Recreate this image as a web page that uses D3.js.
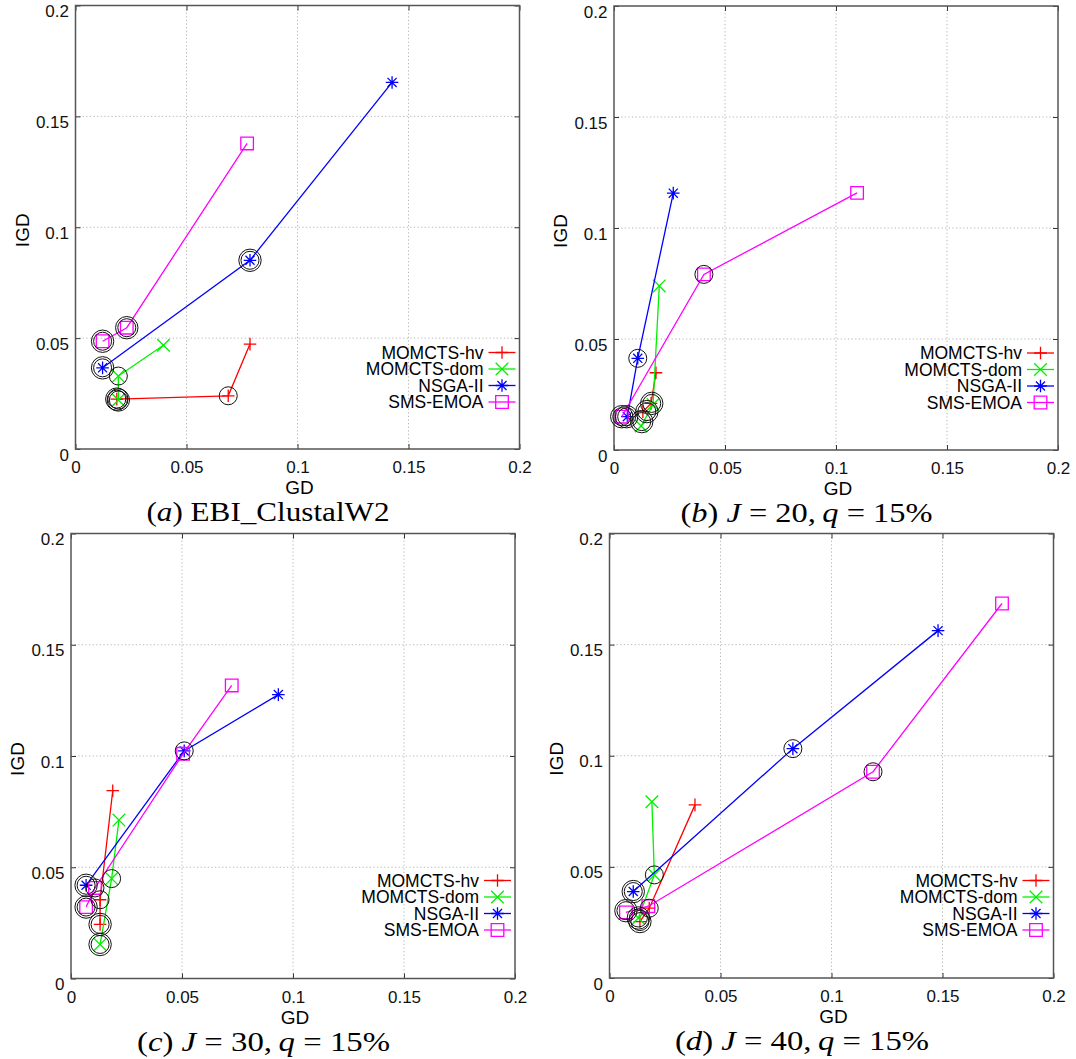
<!DOCTYPE html>
<html>
<head>
<meta charset="utf-8">
<script src="https://cdn.jsdelivr.net/npm/d3@7"></script>
<style>
  body { margin: 0; background: #fff; }
  svg { display: block; }
</style>
</head>
<body>
<div id="chart"></div>
<script>
// four GD / IGD scatter panels
const seriesNames = ["MOMCTS-hv", "MOMCTS-dom", "NSGA-II", "SMS-EMOA"];
const seriesColors = ["#ff0000", "#00f000", "#0000ff", "#ff00ff"];
const seriesMarkers = ["plus", "cross", "star", "square"];

const xTicks = [0, 0.05, 0.1, 0.15, 0.2];
const yTicks = [0, 0.05, 0.1, 0.15, 0.2];
const tickLabels = ["0", "0.05", "0.1", "0.15", "0.2"];

// [GD, IGD] per series, one array per panel
const aHv  = [[0.0786, 0.0473], [0.0688, 0.0240], [0.0186, 0.0225]];
const aDom = [[0.0396, 0.0468], [0.0193, 0.0329], [0.0193, 0.0221]];
const aNsga = [[0.1426, 0.1653], [0.0786, 0.0851], [0.0122, 0.0366]];
const aSms = [[0.0773, 0.1378], [0.0231, 0.0547], [0.0122, 0.0486]];

const bHv  = [[0.0189, 0.0348], [0.0167, 0.0210], [0.0130, 0.0173]];
const bDom = [[0.0204, 0.0739], [0.0176, 0.0205], [0.0122, 0.0108]];
const bNsga = [[0.0267, 0.1157], [0.0107, 0.0413], [0.0060, 0.0150]];
const bSms = [[0.1095, 0.1158], [0.0405, 0.0791], [0.0035, 0.0150]];

const cHv  = [[0.0188, 0.0844], [0.0131, 0.0354], [0.0131, 0.0243]];
const cDom = [[0.0216, 0.0712], [0.0183, 0.0449], [0.0131, 0.0153]];
const cNsga = [[0.0934, 0.1276], [0.0510, 0.1023], [0.0068, 0.0419]];
const cSms = [[0.0724, 0.1317], [0.0505, 0.1010], [0.0108, 0.0407], [0.0068, 0.0321]];

const dHv  = [[0.0385, 0.0779], [0.0179, 0.0314], [0.0137, 0.0254]];
const dDom = [[0.0191, 0.0793], [0.0202, 0.0464], [0.0130, 0.0270]];
const dNsga = [[0.1480, 0.1563], [0.0826, 0.1032], [0.0107, 0.0389]];
const dSms = [[0.1768, 0.1685], [0.1187, 0.0928], [0.0175, 0.0323], [0.0074, 0.0295]];

// circled points: [GD, IGD, rings]
const aRings = [[0.0688, 0.0240, 1], [0.0186, 0.0225, 2], [0.0193, 0.0221, 2], [0.0193, 0.0329, 1],
  [0.0786, 0.0851, 2], [0.0122, 0.0366, 2], [0.0231, 0.0547, 2], [0.0122, 0.0486, 2]];
const bRings = [[0.0107, 0.0413, 1], [0.0405, 0.0791, 1], [0.0170, 0.0210, 2], [0.0148, 0.0173, 2],
  [0.0125, 0.0128, 2], [0.0057, 0.0150, 2], [0.0035, 0.0150, 2]];
const cRings = [[0.0510, 0.1023, 1], [0.0068, 0.0419, 2], [0.0108, 0.0407, 1], [0.0183, 0.0449, 1],
  [0.0131, 0.0354, 1], [0.0068, 0.0321, 2], [0.0131, 0.0243, 2], [0.0131, 0.0153, 2]];
const dRings = [[0.0826, 0.1032, 1], [0.1187, 0.0928, 1], [0.0202, 0.0464, 1], [0.0107, 0.0389, 2],
  [0.0074, 0.0303, 2], [0.0179, 0.0314, 1], [0.0130, 0.0270, 2], [0.0137, 0.0254, 2]];

const captionTags = ["a", "b", "c", "d"];
const captionJ = [null, "20", "30", "40"];
const captionQ = [null, "15%", "15%", "15%"];

// layout
const width = 1076, height = 1059;
const panels = [
  { box: [75.5, 519.5, 5.5, 449], series: [aHv, aDom, aNsga, aSms], rings: aRings, capW: 243 },
  { box: [614, 1058, 6, 450], series: [bHv, bDom, bNsga, bSms], rings: bRings, capW: 252 },
  { box: [71, 515, 533.5, 978.5], series: [cHv, cDom, cNsga, cSms], rings: cRings, capW: 253 },
  { box: [609.5, 1053.5, 533.5, 978], series: [dHv, dDom, dNsga, dSms], rings: dRings, capW: 254 }
];

const svg = d3.select("#chart").append("svg")
  .attr("width", width).attr("height", height)
  .attr("viewBox", [0, 0, width, height]);

const sans = "'Liberation Sans', Arial, sans-serif";
const serif = "'Liberation Serif', 'Times New Roman', serif";

function markerPath(kind, s) {
  if (kind === "plus") return `M${-s},0H${s}M0,${-s}V${s}`;
  if (kind === "cross") return `M${-s},${-s}L${s},${s}M${-s},${s}L${s},${-s}`;
  if (kind === "star") {
    const k = s * 0.72;
    return `M${-s},0H${s}M0,${-s}V${s}M${-k},${-k}L${k},${k}M${-k},${k}L${k},${-k}`;
  }
  return `M${-s},${-s}H${s}V${s}H${-s}Z`;
}

panels.forEach((p, pi) => {
  const [L, R, T, B] = p.box;
  const x = d3.scaleLinear().domain([0, 0.2]).range([L, R]);
  const y = d3.scaleLinear().domain([0, 0.2]).range([B, T]);
  const g = svg.append("g");

  // dotted grid
  g.append("g").selectAll("line.gx")
    .data(xTicks.slice(1, -1)).join("line")
    .attr("x1", d => x(d)).attr("x2", d => x(d))
    .attr("y1", T).attr("y2", B)
    .attr("stroke", "#b4b4b4").attr("stroke-width", 1).attr("stroke-dasharray", "1.2,2.4");
  g.append("g").selectAll("line.gy")
    .data(yTicks.slice(1, -1)).join("line")
    .attr("x1", L).attr("x2", R)
    .attr("y1", d => y(d)).attr("y2", d => y(d))
    .attr("stroke", "#b4b4b4").attr("stroke-width", 1).attr("stroke-dasharray", "1.2,2.4");

  const fmt = d => tickLabels[xTicks.indexOf(d)];

  g.append("g").attr("transform", `translate(0,${B})`)
    .call(d3.axisBottom(x).tickValues(xTicks).tickFormat(fmt).tickSize(-5).tickPadding(12))
    .call(a => a.select(".domain").remove());
  g.append("g").attr("transform", `translate(0,${T})`)
    .call(d3.axisTop(x).tickValues(xTicks).tickFormat("").tickSize(-5))
    .call(a => a.select(".domain").remove());
  g.append("g").attr("transform", `translate(${L},0)`)
    .call(d3.axisLeft(y).tickValues(yTicks).tickFormat(d => tickLabels[yTicks.indexOf(d)]).tickSize(-5).tickPadding(6.5))
    .call(a => a.select(".domain").remove())
    .call(a => a.selectAll("text").attr("dy", "0.65em"));
  g.append("g").attr("transform", `translate(${R},0)`)
    .call(d3.axisRight(y).tickValues(yTicks).tickFormat("").tickSize(-5))
    .call(a => a.select(".domain").remove());

  g.selectAll(".tick line").attr("stroke", "#333");
  g.selectAll(".tick text")
    .attr("font-family", sans).attr("font-size", 17).attr("fill", "#111");

  g.append("rect")
    .attr("x", L).attr("y", T).attr("width", R - L).attr("height", B - T)
    .attr("fill", "none").attr("stroke", "#555").attr("stroke-width", 1.5);

  // axis titles
  g.append("text")
    .attr("x", (L + R) / 2 + 2).attr("y", B + 45)
    .attr("text-anchor", "middle")
    .attr("font-family", sans).attr("font-size", 19).attr("fill", "#000")
    .text("GD");
  g.append("text")
    .attr("transform", `translate(${L - 47},${(T + B) / 2 + 3}) rotate(-90)`)
    .attr("text-anchor", "middle")
    .attr("font-family", sans).attr("font-size", 19).attr("fill", "#000")
    .text("IGD");

  // series lines and markers
  p.series.forEach((pts, si) => {
    g.append("path")
      .datum(pts)
      .attr("d", d3.line().x(d => x(d[0])).y(d => y(d[1])))
      .attr("fill", "none").attr("stroke", seriesColors[si]).attr("stroke-width", 1.3);
    g.append("g").selectAll("path")
      .data(pts).join("path")
      .attr("transform", d => `translate(${x(d[0])},${y(d[1])})`)
      .attr("d", markerPath(seriesMarkers[si], 6.3))
      .attr("fill", "none").attr("stroke", seriesColors[si]).attr("stroke-width", 1.3);
  });

  // black rings around selected points
  const ringG = g.append("g").attr("fill", "none").attr("stroke", "#111").attr("stroke-width", 1);
  p.rings.forEach(r => {
    ringG.append("circle").attr("cx", x(r[0])).attr("cy", y(r[1])).attr("r", 9);
    if (r[2] > 1) ringG.append("circle").attr("cx", x(r[0])).attr("cy", y(r[1])).attr("r", 11.2);
  });

  // legend
  const leg = g.append("g");
  seriesNames.forEach((name, si) => {
    const cy = T + 347 + si * 16.5;
    leg.append("text")
      .attr("x", R - 36).attr("y", cy + 6)
      .attr("text-anchor", "end")
      .attr("font-family", sans).attr("font-size", 17.5).attr("fill", "#000")
      .text(name);
    leg.append("line")
      .attr("x1", R - 31).attr("x2", R - 4).attr("y1", cy).attr("y2", cy)
      .attr("stroke", seriesColors[si]).attr("stroke-width", 1.3);
    leg.append("path")
      .attr("transform", `translate(${R - 17.5},${cy})`)
      .attr("d", markerPath(seriesMarkers[si], 6.3))
      .attr("fill", "none").attr("stroke", seriesColors[si]).attr("stroke-width", 1.3);
  });

  // caption
  const cap = g.append("text")
    .attr("x", (L + R) / 2 - 29.5).attr("y", B + 72)
    .attr("text-anchor", "middle")
    .attr("font-family", serif).attr("font-size", 28).attr("fill", "#000")
    .attr("textLength", p.capW).attr("lengthAdjust", "spacingAndGlyphs");
  cap.append("tspan").text("(");
  cap.append("tspan").attr("font-style", "italic").text(captionTags[pi]);
  cap.append("tspan").text(") ");
  if (captionJ[pi] === null) {
    cap.append("tspan").text("EBI_ClustalW2");
  } else {
    cap.append("tspan").attr("font-style", "italic").text("J");
    cap.append("tspan").text(` = ${captionJ[pi]},\u2009`);
    cap.append("tspan").attr("font-style", "italic").text("q");
    cap.append("tspan").text(` = ${captionQ[pi]}`);
  }
});
</script>
</body>
</html>
